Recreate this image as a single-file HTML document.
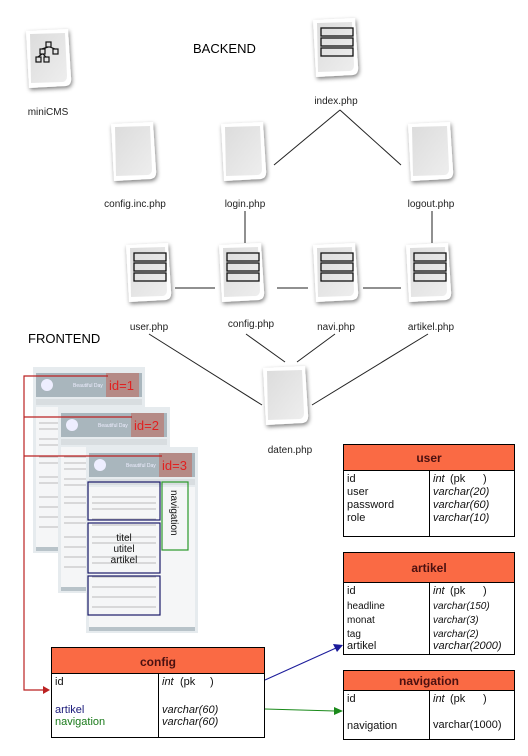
<!DOCTYPE html>
<html><head><meta charset="utf-8"><style>
html,body{margin:0;padding:0;background:#fff;width:528px;height:756px;overflow:hidden}
svg{display:block}
text{font-family:"Liberation Sans",sans-serif}
</style></head><body>
<svg width="528" height="756" viewBox="0 0 528 756" xmlns="http://www.w3.org/2000/svg">
<defs>
<linearGradient id="pg" x1="0" y1="0" x2="1" y2="1"><stop offset="0" stop-color="#dcdcdc"/><stop offset="1" stop-color="#eeeeee"/></linearGradient>
<filter id="sh" x="-20%" y="-20%" width="150%" height="150%"><feGaussianBlur in="SourceAlpha" stdDeviation="2"/><feOffset dx="1" dy="2"/><feComponentTransfer><feFuncA type="linear" slope="0.5"/></feComponentTransfer><feMerge><feMergeNode/><feMergeNode in="SourceGraphic"/></feMerge></filter>
<g id="page"><path d="M0,2 L42,0 L45,48 Q46,56 40,57 L3,59 Z" fill="#fff" filter="url(#sh)"/><path d="M4,5 L39,4 L41,47 Q41,52 37,53 L5,54 Z" fill="url(#pg)"/></g>
<g id="form"><use href="#page"/><rect x="8" y="10" width="32" height="8" fill="none" stroke="#111" stroke-width="1.3"/><rect x="8" y="20" width="32" height="8" fill="none" stroke="#111" stroke-width="1.3"/><rect x="8" y="30" width="32" height="8" fill="none" stroke="#111" stroke-width="1.3"/></g>
<g id="mock">
<rect x="0" y="0" width="112" height="186" fill="#e6ebee"/>
<rect x="3" y="6" width="106" height="24" fill="#a9b6bd"/>
<circle cx="14" cy="18" r="6" fill="#eef"/>
<text x="40" y="20" font-size="5" fill="#eef">Beautiful Day</text>
<rect x="3" y="32" width="106" height="6" fill="#d8dde0"/>
<rect x="3" y="40" width="106" height="140" fill="#f5f6f7"/>
<g stroke="#bbb" stroke-width="1">
<line x1="6" y1="50" x2="70" y2="50"/><line x1="6" y1="56" x2="70" y2="56"/><line x1="6" y1="62" x2="70" y2="62"/><line x1="6" y1="72" x2="70" y2="72"/><line x1="6" y1="78" x2="70" y2="78"/><line x1="6" y1="90" x2="70" y2="90"/><line x1="6" y1="96" x2="70" y2="96"/><line x1="6" y1="110" x2="70" y2="110"/><line x1="6" y1="116" x2="70" y2="116"/><line x1="6" y1="130" x2="70" y2="130"/><line x1="6" y1="140" x2="70" y2="140"/><line x1="6" y1="150" x2="70" y2="150"/><line x1="6" y1="160" x2="70" y2="160"/>
</g>
<rect x="3" y="180" width="106" height="4" fill="#b8c3c9"/>
</g>
</defs>

<text x="193" y="53" font-size="13">BACKEND</text>
<text x="28" y="343" font-size="13">FRONTEND</text>

<g stroke="#222" stroke-width="1" fill="none">
<line x1="340" y1="110" x2="274" y2="165"/><line x1="340" y1="110" x2="401" y2="165"/>
<line x1="245" y1="211" x2="245" y2="243"/><line x1="432" y1="211" x2="432" y2="243"/>
<line x1="175" y1="288" x2="215" y2="288"/><line x1="277" y1="288" x2="308" y2="288"/><line x1="363" y1="288" x2="401" y2="288"/>
<line x1="149" y1="334" x2="262" y2="405"/><line x1="246" y1="334" x2="285" y2="362"/><line x1="335" y1="334" x2="297" y2="362"/><line x1="428" y1="334" x2="312" y2="405"/>
</g>

<g transform="translate(26,29)"><use href="#page"/><g fill="none" stroke="#111" stroke-width="1.2"><rect x="20" y="13" width="5" height="5"/><rect x="27" y="20" width="5" height="5"/><rect x="14" y="20" width="5" height="5"/><rect x="10" y="28" width="5" height="5"/><rect x="18" y="28" width="5" height="5"/><path d="M22,18 L16,20 M24,18 L29,20 M16,25 L12,28 M17,25 L20,28"/></g></g>
<use href="#form" transform="translate(313,18)"/>
<use href="#page" transform="translate(111,122)"/>
<use href="#page" transform="translate(221,122)"/>
<use href="#page" transform="translate(408,122)"/>
<use href="#form" transform="translate(126,243)"/>
<use href="#form" transform="translate(219,243)"/>
<use href="#form" transform="translate(313,243)"/>
<use href="#form" transform="translate(406,243)"/>
<use href="#page" transform="translate(263,366)"/>

<g font-size="10" fill="#222" text-anchor="middle">
<text x="48" y="115">miniCMS</text>
<text x="336" y="104">index.php</text>
<text x="135" y="207">config.inc.php</text>
<text x="245" y="207">login.php</text>
<text x="431" y="207">logout.php</text>
<text x="149" y="330">user.php</text>
<text x="251" y="327">config.php</text>
<text x="336" y="330">navi.php</text>
<text x="431" y="330">artikel.php</text>
<text x="290" y="453">daten.php</text>
</g>

<use href="#mock" transform="translate(33,367)"/>
<rect x="106" y="373" width="33" height="24" fill="#b58a86"/><text x="109" y="390" font-size="13" fill="#e02020">id=1</text>
<use href="#mock" transform="translate(58,407)"/>
<rect x="131" y="413" width="33" height="24" fill="#b58a86"/><text x="134" y="430" font-size="13" fill="#e02020">id=2</text>
<use href="#mock" transform="translate(86,447)"/>
<rect x="159" y="453" width="33" height="24" fill="#b58a86"/><text x="162" y="470" font-size="13" fill="#e02020">id=3</text>
<g fill="none" stroke-width="1.2">
<rect x="88" y="482" width="72" height="38" stroke="#1a1a6a"/>
<rect x="88" y="523" width="72" height="50" stroke="#1a1a6a"/>
<rect x="88" y="576" width="72" height="39" stroke="#1a1a6a"/>
<rect x="162" y="482" width="26" height="68" stroke="#2a9a2a"/>
</g>
<g font-size="10" fill="#111" text-anchor="middle"><text x="124" y="541">titel</text><text x="124" y="552">utitel</text><text x="124" y="563">artikel</text></g>
<text x="171" y="490" font-size="10" fill="#111" transform="rotate(90 171 490)">navigation</text>

<g stroke="#b22" stroke-width="1.2" fill="none">
<polyline points="108,376 24,376 24,690 44,690"/><line x1="24" y1="417" x2="132" y2="417"/><line x1="24" y1="456" x2="162" y2="456"/>
</g>
<polygon points="50,690 43,686 43,694" fill="#b22"/>

<g stroke="#000" stroke-width="1" font-size="11">
<rect x="51.5" y="647.5" width="213" height="90" fill="#fff"/>
<rect x="51.5" y="647.5" width="213" height="26" fill="#fa6a44"/>
<line x1="158.5" y1="673" x2="158.5" y2="738"/>
<rect x="343.5" y="444.5" width="171" height="92" fill="#fff"/>
<rect x="343.5" y="444.5" width="171" height="26" fill="#fa6a44"/>
<line x1="429.5" y1="470" x2="429.5" y2="537"/>
<rect x="343.5" y="552.5" width="171" height="102" fill="#fff"/>
<rect x="343.5" y="552.5" width="171" height="30" fill="#fa6a44"/>
<line x1="429.5" y1="583" x2="429.5" y2="655"/>
<rect x="343.5" y="670.5" width="171" height="69" fill="#fff"/>
<rect x="343.5" y="670.5" width="171" height="20" fill="#fa6a44"/>
<line x1="429.5" y1="690" x2="429.5" y2="740"/>
</g>
<g font-size="12" font-weight="bold" fill="#4a1010" text-anchor="middle">
<text x="158" y="666">config</text><text x="429" y="462">user</text><text x="429" y="572">artikel</text><text x="429" y="685">navigation</text>
</g>
<g font-size="11" fill="#111">
<text x="55" y="685">id</text><text x="55" y="713" fill="#1a1a7a">artikel</text><text x="55" y="725" fill="#1a7a1a">navigation</text>
<text x="162" y="685" font-style="italic">int</text><text x="180" y="685">(pk</text><text x="210" y="685">)</text>
<text x="162" y="713" font-style="italic">varchar(60)</text><text x="162" y="725" font-style="italic">varchar(60)</text>
<text x="347" y="482">id</text><text x="347" y="495">user</text><text x="347" y="508">password</text><text x="347" y="521">role</text>
<text x="433" y="482" font-style="italic">int</text><text x="450" y="482">(pk</text><text x="483" y="482">)</text>
<text x="433" y="495" font-style="italic">varchar(20)</text><text x="433" y="508" font-style="italic">varchar(60)</text><text x="433" y="521" font-style="italic">varchar(10)</text>
<text x="347" y="594">id</text><text x="347" y="609" font-size="10">headline</text><text x="347" y="623" font-size="10">monat</text><text x="347" y="637" font-size="10">tag</text><text x="347" y="649">artikel</text>
<text x="433" y="594" font-style="italic">int</text><text x="450" y="594">(pk</text><text x="483" y="594">)</text>
<text x="433" y="609" font-size="10" font-style="italic">varchar(150)</text><text x="433" y="623" font-size="10" font-style="italic">varchar(3)</text><text x="433" y="637" font-size="10" font-style="italic">varchar(2)</text><text x="433" y="649" font-style="italic">varchar(2000)</text>
<text x="347" y="702">id</text><text x="347" y="729">navigation</text>
<text x="433" y="702" font-style="italic">int</text><text x="450" y="702">(pk</text><text x="483" y="702">)</text>
<text x="433" y="728">varchar(1000)</text>
</g>

<line x1="265" y1="680" x2="336" y2="648" stroke="#1a1a9a" stroke-width="1"/>
<polygon points="343,645 333,644 337,652" fill="#1a1a9a"/>
<line x1="265" y1="709" x2="335" y2="711" stroke="#1a8a1a" stroke-width="1"/>
<polygon points="343,711 334,707 334,715" fill="#1a8a1a"/>
</svg>
</body></html>
